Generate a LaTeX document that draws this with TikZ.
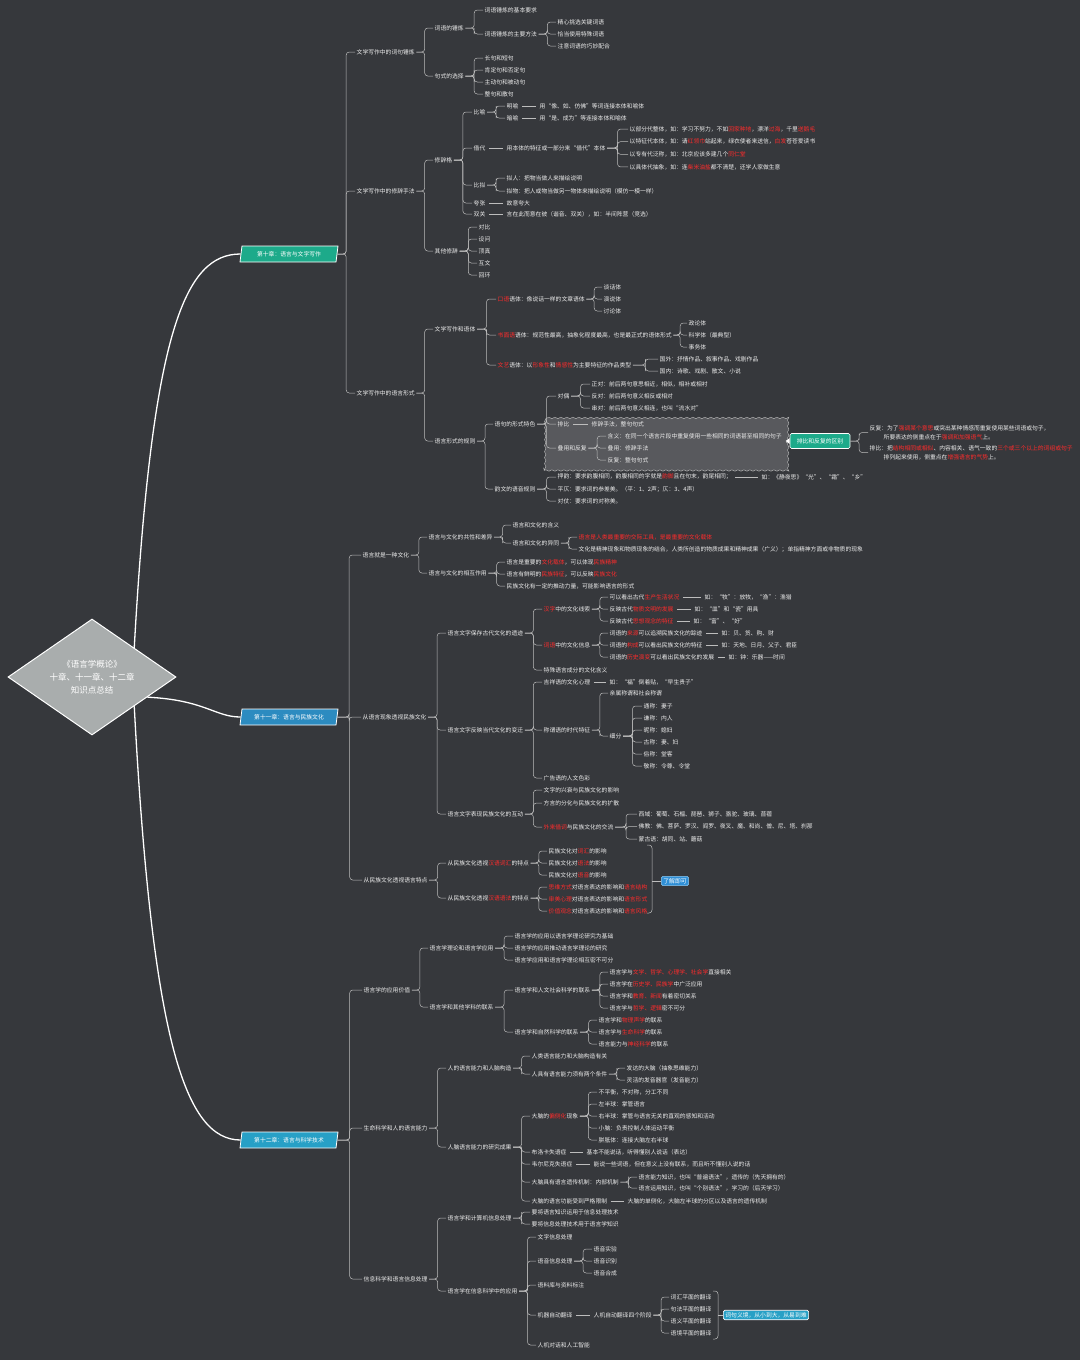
\documentclass[tikz,border=0pt]{standalone}
\usepackage{fontspec}
\setmainfont{Noto Sans CJK SC}
\usepackage{tikz}
\usetikzlibrary{calc}
\usetikzlibrary{shapes.geometric,decorations.pathmorphing}
\definecolor{bg}{HTML}{36383C}
\definecolor{tc}{HTML}{EDEDED}
\definecolor{lc}{HTML}{BDBDBD}
\definecolor{hl}{HTML}{FF2B2B}
\definecolor{chA}{HTML}{1DAA8A}
\definecolor{chB}{HTML}{2C8BC0}
\definecolor{chC}{HTML}{27A0C6}
\definecolor{dmc}{HTML}{A9ADAD}
\definecolor{cloudc}{HTML}{58595D}
\definecolor{tipc}{HTML}{2F8FD6}
\newcommand{\fs}{\fontsize{5.8pt}{7pt}\selectfont}
\newcommand{\rd}[1]{\textcolor{hl}{#1}}
\newcommand{\kids}[2]{\foreach \nn in {#2}{\draw[lk] (#1.east) -| ($(#1.east)!.5!(\nn.west)$) |- (\nn.west);}}
\tikzset{
  tx/.style={anchor=west, text=tc, inner sep=1.5pt, font=\fs},
  lk/.style={draw=lc, line width=.5pt, rounded corners=3pt},
  ln/.style={draw=lc, line width=.5pt, shorten <=2pt, shorten >=2pt},
  chap/.style={trapezium, trapezium left angle=75, trapezium right angle=105, trapezium stretches body,
    draw=white, line width=.8pt, text=white, font=\fs, minimum width=98pt, minimum height=16pt, inner sep=1pt},
  trunk/.style={draw=white, line width=1.3pt},
  tag/.style={draw=white, line width=.6pt, rounded corners=1.5pt, text=white, font=\fs, inner sep=2pt}
}
\begin{document}
\begin{tikzpicture}[x=1pt,y=-1pt]
  \fill[bg] (0,0) rectangle (1080,1360);
  \useasboundingbox (0,0) rectangle (1080,1360);

  % centre and chapters
  \node[diamond, fill=dmc, draw=white, line width=1pt, minimum width=168pt, minimum height=116pt, aspect=1.45,
    inner sep=0pt, align=center, text=white, font=\fontsize{8.5pt}{13pt}\selectfont] (dia) at (92,677)
    {《语言学概论》\\十章、十一章、十二章\\知识点总结};
  \node[chap, fill=chA] (ch10) at (289,254) {第十章：语言与文字写作};
  \node[chap, fill=chB] (ch11) at (289,717) {第十一章：语言与民族文化};
  \node[chap, fill=chC] (ch12) at (289,1140) {第十二章：语言与科学技术};
  \draw[trunk] (dia.north east) .. controls (152,330) and (185,254) .. (ch10.west);
  \draw[trunk] (dia.-20) .. controls (205,700) and (215,717) .. (ch11.west);
  \draw[trunk] (dia.south east) .. controls (152,1040) and (185,1140) .. (ch12.west);

  % chapter 10
  \node[draw=lc, fill=cloudc, decorate, decoration={snake, amplitude=.7pt, segment length=6pt},
    minimum width=242pt, minimum height=56pt] (cld) at (665,442.5) {};
  \node[tx] (a1) at (355,52) {文学写作中的词句锤炼};
  \node[tx] (a11) at (433,28) {词语的锤炼};
  \node[tx] (a111) at (483,10) {词语锤炼的基本要求};
  \node[tx] (a112) at (483,34) {词语锤炼的主要方法};
  \foreach \lbl [count=\i] in {精心挑选关键词语,恰当使用特殊词语,注意词语的巧妙配合}
    \node[tx] (fa-\i) at (556,10+12*\i) {\lbl};
  \node[tx] (a12) at (433,76) {句式的选择};
  \foreach \lbl [count=\i] in {长句和短句,肯定句和否定句,主动句和被动句,整句和散句}
    \node[tx] (sj-\i) at (483,46+12*\i) {\lbl};

  \node[tx] (a2) at (355,191) {文学写作中的修辞手法};
  \node[tx] (a21) at (433,160) {修辞格};
  \node[tx] (b1) at (472,112) {比喻};
  \node[tx] (b11) at (505,106) {明喻};
  \node[tx] (b11t) at (538,106) {用“像、如、仿佛”等词连接本体和喻体};
  \node[tx] (b12) at (505,118) {暗喻};
  \node[tx] (b12t) at (538,118) {用“是、成为”等连接本体和喻体};
  \node[tx] (b2) at (472,148) {借代};
  \node[tx] (b2t) at (505,148) {用本体的特征或一部分来“借代”本体};
  \foreach \lbl [count=\i] in {以部分代整体，如：学习不努力，不如\rd{回家种地}，漂洋\rd{过海}，千里\rd{送鹅毛},
      以特征代本体，如：请\rd{红领巾}站起来，绿衣使者来送信，\rd{白发}苍苍爱读书,
      以专有代泛称，如：北京应该多建几个\rd{同仁堂},
      以具体代抽象，如：连\rd{柴米油盐}都不清楚，还学人家做生意}
    \node[tx] (jd-\i) at (628,116.5+12.6*\i) {\lbl};
  \node[tx] (b3) at (472,185) {比拟};
  \node[tx] (b31) at (505,178) {拟人：把物当做人来描绘说明};
  \node[tx] (b32) at (505,191) {拟物：把人或物当做另一物体来描绘说明（模仿一模一样）};
  \node[tx] (b4) at (472,203) {夸张};
  \node[tx] (b4t) at (505,203) {故意夸大};
  \node[tx] (b5) at (472,214) {双关};
  \node[tx] (b5t) at (505,214) {言在此而意在彼（谐音、双关），如：半间阵营（竞选）};
  \node[tx] (a22) at (433,251) {其他修辞};
  \foreach \lbl [count=\i] in {对比,设问,顶真,互文,回环}
    \node[tx] (qt-\i) at (477,215+12*\i) {\lbl};

  \node[tx] (a3) at (355,393) {文学写作中的语言形式};
  \node[tx] (a31) at (433,329) {文学写作和语体};
  \node[tx] (d1) at (496,299) {\rd{口语}语体：像说话一样的文章语体};
  \foreach \lbl [count=\i] in {谈话体,演说体,讨论体}
    \node[tx] (ky-\i) at (602,275+12*\i) {\lbl};
  \node[tx] (d2) at (496,335) {\rd{书面语}语体：规范性最高，抽象化程度最高，也是最正式的语体形式};
  \foreach \lbl [count=\i] in {政论体,科学体（最典型）,事务体}
    \node[tx] (sm-\i) at (687,311+12*\i) {\lbl};
  \node[tx] (d3) at (496,365) {\rd{文艺}语体：以\rd{形象性}和\rd{情感性}为主要特征的作品类型};
  \foreach \lbl [count=\i] in {国外：抒情作品、叙事作品、戏剧作品,国内：诗歌、戏剧、散文、小说}
    \node[tx] (wy-\i) at (658,347+12*\i) {\lbl};
  \node[tx] (a32) at (433,441) {语言形式的规则};
  \node[tx] (e1) at (493,424) {语句的形式特色};
  \node[tx] (e11) at (556,396) {对偶};
  \foreach \lbl [count=\i] in {正对：前后两句意思相近，相似，相补或相衬,反对：前后两句意义相反或相对,串对：前后两句意义相连，也叫“流水对”}
    \node[tx] (do-\i) at (590,372+12*\i) {\lbl};
  \node[tx] (e12) at (556,424) {排比};
  \node[tx] (e12t) at (590,424) {修辞手法，整句句式};
  \node[tx] (e13) at (556,448) {叠用和反复};
  \foreach \lbl [count=\i] in {含义：在同一个语言片段中重复使用一些相同的词语甚至相同的句子,叠用：修辞手法,反复：整句句式}
    \node[tx] (dy-\i) at (606,424+12*\i) {\lbl};
  \node[tag, fill=chA, minimum width=60pt, minimum height=15pt] (gb) at (820,441) {排比和反复的区别};
  \node[tx, align=left, font=\fontsize{5.8pt}{9pt}\selectfont] (fb) at (868,432.5)
    {反复：为了\rd{强调某个意思}或突出某种情感而重复使用某些词语或句子，\\\hspace*{14pt}所要表达的侧重点在于\rd{强调和加强语气}上。};
  \node[tx, align=left, font=\fontsize{5.8pt}{9pt}\selectfont] (pb) at (868,452.5)
    {排比：把\rd{结构相同或相似}、内容相关、语气一致的\rd{三个或三个以上的词组或句子}\\\hspace*{14pt}排列起来使用，侧重点在\rd{增强语言的气势}上。};
  \node[tx] (e2) at (493,489) {韵文的语音规则};
  \node[tx] (yw-1) at (556,477) {押韵：要求韵腹相同，韵腹相同的字就是\rd{韵脚}且在句末，韵尾相同；};
  \node[tx] (yw-1t) at (760,477) {如：《静夜思》“光”、“霜”、“乡”};
  \node[tx] (yw-2) at (556,489) {平仄：要求词的参差美。（平：1、2声；仄：3、4声）};
  \node[tx] (yw-3) at (556,501) {对仗：要求词的对称美。};

  \kids{ch10}{a1,a2,a3}
  \kids{a1}{a11,a12} \kids{a11}{a111,a112} \kids{a112}{fa-1,fa-2,fa-3} \kids{a12}{sj-1,sj-2,sj-3,sj-4}
  \kids{a2}{a21,a22} \kids{a21}{b1,b2,b3,b4,b5} \kids{b1}{b11,b12} \kids{b3}{b31,b32}
  \kids{b2t}{jd-1,jd-2,jd-3,jd-4} \kids{a22}{qt-1,qt-2,qt-3,qt-4,qt-5}
  \draw[ln] (b11) -- (b11t); \draw[ln] (b12) -- (b12t); \draw[ln] (b2) -- (b2t);
  \draw[ln] (b4) -- (b4t); \draw[ln] (b5) -- (b5t);
  \kids{a3}{a31,a32} \kids{a31}{d1,d2,d3} \kids{d1}{ky-1,ky-2,ky-3} \kids{d2}{sm-1,sm-2,sm-3} \kids{d3}{wy-1,wy-2}
  \kids{a32}{e1,e2} \kids{e1}{e11,e12,e13} \kids{e11}{do-1,do-2,do-3} \kids{e13}{dy-1,dy-2,dy-3}
  \draw[ln] (e12) -- (e12t);
  \kids{e2}{yw-1,yw-2,yw-3} \draw[ln] (yw-1) -- (yw-1t);
  \draw[lk] (cld.east) -- (gb.west);
  \fill[white] ($(gb.west)+(0,-3)$) -- ++(-4,3) -- ++(4,3) -- cycle;
  \kids{gb}{fb,pb}

  % chapter 11
  \node[tx] (f1) at (361,555) {语言就是一种文化};
  \node[tx] (f11) at (427,537) {语言与文化的共性和差异};
  \node[tx] (f111) at (511,525) {语言和文化的含义};
  \node[tx] (f112) at (511,543) {语言和文化的异同};
  \node[tx] (yt-1) at (577,537) {\rd{语言是人类最重要的交际工具，是最重要的文化载体}};
  \node[tx] (yt-2) at (577,549) {文化是精神现象和物质现象的结合，人类所创造的物质成果和精神成果（广义）；单指精神方面或非物质的现象};
  \node[tx] (f12) at (427,573) {语言与文化的相互作用};
  \foreach \lbl [count=\i] in {语言是重要的\rd{文化载体}，可以体现\rd{民族精神},语言有鲜明的\rd{民族特征}，可以反映\rd{民族文化},民族文化有一定的推动力量，可能影响语言的形式}
    \node[tx] (xh-\i) at (505,550+12*\i) {\lbl};

  \node[tx] (f2) at (361,717) {从语言现象透视民族文化};
  \node[tx] (f21) at (446,633) {语言文字保存古代文化的遗迹};
  \node[tx] (g1) at (542,609) {\rd{汉字}中的文化线索};
  \node[tx] (hz-1) at (608,597) {可以看出古代\rd{生产生活状况}};
  \node[tx] (hzt-1) at (703,597) {如：“牧”：放牧，“渔”：渔猎};
  \node[tx] (hz-2) at (608,609) {反映古代\rd{物质文明的发展}};
  \node[tx] (hzt-2) at (693,609) {如：“皿”和“瓷”用具};
  \node[tx] (hz-3) at (608,621) {反映古代\rd{思想观念的特征}};
  \node[tx] (hzt-3) at (692,621) {如：“富”、“好”};
  \node[tx] (g2) at (542,645) {\rd{词语}中的文化信息};
  \node[tx] (cy-1) at (608,633) {词语的\rd{来源}可以追溯民族文化的踪迹};
  \node[tx] (cyt-1) at (720,633) {如：贝、货、购、财};
  \node[tx] (cy-2) at (608,645) {词语的\rd{构成}可以看出民族文化的特征};
  \node[tx] (cyt-2) at (720,645) {如：天地、日月、父子、君臣};
  \node[tx] (cy-3) at (608,657) {词语的\rd{历史演变}可以看出民族文化的发展};
  \node[tx] (cyt-3) at (727,657) {如：钟：乐器——时间};
  \node[tx] (g3) at (542,670) {特殊语言成分的文化含义};
  \node[tx] (f22) at (446,730) {语言文字反映当代文化的变迁};
  \node[tx] (h1) at (542,682) {吉祥语的文化心理};
  \node[tx] (h1t) at (608,682) {如：“福”倒着贴，“早生贵子”};
  \node[tx] (h2) at (542,730) {称谓语的时代特征};
  \node[tx] (h21) at (608,693) {亲属称谓和社会称谓};
  \node[tx] (h22) at (608,736) {细分};
  \foreach \lbl [count=\i] in {通称：妻子,谦称：内人,昵称：媳妇,古称：妻、妇,俗称：堂客,敬称：令尊、令堂}
    \node[tx] (cw-\i) at (642,694+12*\i) {\lbl};
  \node[tx] (h3) at (542,778) {广告语的人文色彩};
  \node[tx] (f23) at (446,814) {语言文字表现民族文化的互动};
  \node[tx] (i1) at (542,790) {文字的兴衰与民族文化的影响};
  \node[tx] (i2) at (542,803) {方言的分化与民族文化的扩散};
  \node[tx] (i3) at (542,827) {\rd{外来借词}与民族文化的交流};
  \foreach \lbl [count=\i] in {西域：葡萄、石榴、琵琶、狮子、骆驼、玻璃、苜蓿,佛教：佛、菩萨、罗汉、阎罗、夜叉、魔、和尚、僧、尼、塔、刹那,蒙古语：胡同、站、蘑菇}
    \node[tx] (jc-\i) at (637,801.5+12.5*\i) {\lbl};

  \node[tx] (f3) at (362,880) {从民族文化透视语言特点};
  \node[tx] (f31) at (446,863) {从民族文化透视\rd{汉语词汇}的特点};
  \foreach \lbl [count=\i] in {民族文化对\rd{词汇}的影响,民族文化对\rd{语法}的影响,民族文化对\rd{语音}的影响}
    \node[tx] (yx-\i) at (547,839+12*\i) {\lbl};
  \node[tx] (f32) at (446,898) {从民族文化透视\rd{汉语语法}的特点};
  \foreach \lbl [count=\i] in {\rd{思维方式}对语言表达的影响和\rd{语言结构},\rd{审美心理}对语言表达的影响和\rd{语言形式},\rd{价值观念}对语言表达的影响和\rd{语言风格}}
    \node[tx] (yf-\i) at (547,875+12*\i) {\lbl};
  \coordinate (sa) at (652,845);
  \coordinate (sb) at (652,913);
  \node[tag, fill=tipc, draw={rgb,255:red,140;green,200;blue,240}] (ljq) at (675,881) {了解即可};

  \kids{ch11}{f1,f2,f3}
  \kids{f1}{f11,f12} \kids{f11}{f111,f112} \kids{f112}{yt-1,yt-2} \kids{f12}{xh-1,xh-2,xh-3}
  \kids{f2}{f21,f22,f23} \kids{f21}{g1,g2,g3} \kids{g1}{hz-1,hz-2,hz-3} \kids{g2}{cy-1,cy-2,cy-3}
  \foreach \i in {1,2,3}{\draw[ln] (hz-\i) -- (hzt-\i); \draw[ln] (cy-\i) -- (cyt-\i);}
  \kids{f22}{h1,h2,h3} \draw[ln] (h1) -- (h1t);
  \kids{h2}{h21,h22} \kids{h22}{cw-1,cw-2,cw-3,cw-4,cw-5,cw-6}
  \kids{f23}{i1,i2,i3} \kids{i3}{jc-1,jc-2,jc-3}
  \kids{f3}{f31,f32} \kids{f31}{yx-1,yx-2,yx-3} \kids{f32}{yf-1,yf-2,yf-3}
  \draw[lk] ($(sa)+(-5,0)$) -- (sa) -- (sb) -- ++(-5,0);
  \draw[lk] (sa|-ljq) -- (ljq.west);

  % chapter 12
  \node[tx] (j1) at (362,990) {语言学的应用价值};
  \node[tx] (j11) at (428,948) {语言学理论和语言学应用};
  \foreach \lbl [count=\i] in {语言学的应用以语言学理论研究为基础,语言学的应用推动语言学理论的研究,语言学应用和语言学理论相互密不可分}
    \node[tx] (jy-\i) at (513,924+12*\i) {\lbl};
  \node[tx] (j12) at (428,1007) {语言学和其他学科的联系};
  \node[tx] (j121) at (513,990) {语言学和人文社会科学的联系};
  \foreach \lbl [count=\i] in {语言学与\rd{文学、哲学、心理学、社会学}直接相关,语言学在\rd{历史学、民族学}中广泛应用,语言学和\rd{教育、新闻}有着密切关系,语言学与\rd{哲学、逻辑}密不可分}
    \node[tx] (rw-\i) at (608,960+12*\i) {\lbl};
  \node[tx] (j122) at (513,1032) {语言学和自然科学的联系};
  \foreach \lbl [count=\i] in {语言学和\rd{物理声学}的联系,语言学与\rd{生命科学}的联系,语言能力与\rd{神经科学}的联系}
    \node[tx] (zr-\i) at (597,1008+12*\i) {\lbl};

  \node[tx] (j2) at (362,1128) {生命科学和人的语言能力};
  \node[tx] (j21) at (446,1068) {人的语言能力和人脑构造};
  \node[tx] (j211) at (530,1056) {人类语言能力和大脑构造有关};
  \node[tx] (j212) at (530,1074) {人具有语言能力须有两个条件};
  \foreach \lbl [count=\i] in {发达的大脑（抽象思维能力）,灵活的发音器官（发音能力）}
    \node[tx] (tj-\i) at (625,1056+12*\i) {\lbl};
  \node[tx] (j22) at (446,1147) {人脑语言能力的研究成果};
  \node[tx] (k1) at (530,1116) {大脑的\rd{偏侧化}现象};
  \foreach \lbl [count=\i] in {不平衡，不对称，分工不同,左半球：掌管语言,右半球：掌管与语言无关的直观的感知和活动,小脑：负责控制人体运动平衡,胼胝体：连接大脑左右半球}
    \node[tx] (pc-\i) at (597,1080+12*\i) {\lbl};
  \node[tx] (k2) at (530,1152) {布洛卡失语症};
  \node[tx] (k2t) at (585,1152) {基本不能说话，听得懂别人说话（表达）};
  \node[tx] (k3) at (530,1164) {韦尔尼克失语症};
  \node[tx] (k3t) at (592,1164) {能说一些词语，但在意义上没有联系，而且听不懂别人说的话};
  \node[tx] (k4) at (530,1182) {大脑具有语言遗传机制：内部机制};
  \node[tx] (yc-1) at (637,1177) {语言能力知识，也叫“普遍语法”，遗传的（先天拥有的）};
  \node[tx] (yc-2) at (637,1188) {语言运用知识，也叫“个别语法”，学习的（后天学习）};
  \node[tx] (k5) at (530,1201) {大脑的语言功能受到严格限制};
  \node[tx] (k5t) at (626,1201) {大脑的单侧化，大脑左半球的分区以及语言的遗传机制};

  \node[tx] (j3) at (362,1279) {信息科学和语言信息处理};
  \node[tx] (j31) at (446,1218) {语言学和计算机信息处理};
  \node[tx] (xx-1) at (530,1212) {要将语言知识运用于信息处理技术};
  \node[tx] (xx-2) at (530,1224) {要将信息处理技术用于语言学知识};
  \node[tx] (j32) at (446,1291) {语言学在信息科学中的应用};
  \node[tx] (m1) at (536,1237) {文字信息处理};
  \node[tx] (m2) at (536,1261) {语音信息处理};
  \foreach \lbl [count=\i] in {语音实验,语音识别,语音合成}
    \node[tx] (yy-\i) at (592,1237+12*\i) {\lbl};
  \node[tx] (m3) at (536,1285) {语料库与资料标注};
  \node[tx] (m4) at (536,1315) {机器自动翻译};
  \node[tx] (m4t) at (592,1315) {人机自动翻译四个阶段};
  \foreach \lbl [count=\i] in {词汇平面的翻译,句法平面的翻译,语义平面的翻译,语境平面的翻译}
    \node[tx] (fy-\i) at (669,1285+12*\i) {\lbl};
  \node[tx] (m5) at (536,1345) {人机对话和人工智能};
  \coordinate (sc) at (718,1291);
  \coordinate (sd) at (718,1339);
  \node[tag, fill=chC] (cjb) at (766,1315) {词句义境，从小到大，从易到难};

  \kids{ch12}{j1,j2,j3}
  \kids{j1}{j11,j12} \kids{j11}{jy-1,jy-2,jy-3} \kids{j12}{j121,j122}
  \kids{j121}{rw-1,rw-2,rw-3,rw-4} \kids{j122}{zr-1,zr-2,zr-3}
  \kids{j2}{j21,j22} \kids{j21}{j211,j212} \kids{j212}{tj-1,tj-2}
  \kids{j22}{k1,k2,k3,k4,k5} \kids{k1}{pc-1,pc-2,pc-3,pc-4,pc-5} \kids{k4}{yc-1,yc-2}
  \draw[ln] (k2) -- (k2t); \draw[ln] (k3) -- (k3t); \draw[ln] (k5) -- (k5t);
  \kids{j3}{j31,j32} \kids{j31}{xx-1,xx-2} \kids{j32}{m1,m2,m3,m4,m5}
  \kids{m2}{yy-1,yy-2,yy-3} \draw[ln] (m4) -- (m4t); \kids{m4t}{fy-1,fy-2,fy-3,fy-4}
  \draw[lk] ($(sc)+(-5,0)$) -- (sc) -- (sd) -- ++(-5,0);
  \draw[lk] (sc|-cjb) -- (cjb.west);
\end{tikzpicture}
\end{document}
